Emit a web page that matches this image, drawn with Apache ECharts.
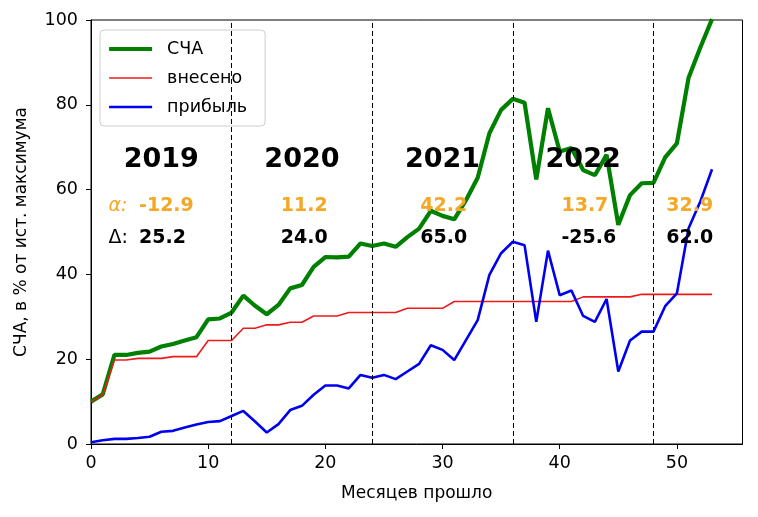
<!DOCTYPE html>
<html>
<head>
<meta charset="utf-8">
<script src="https://cdn.jsdelivr.net/npm/echarts@6/dist/echarts.min.js"></script>
<style>html,body{margin:0;padding:0;background:#fff}#c{width:758px;height:517px}</style>
</head>
<body>
<div id="c"></div>
<script>
// ---- data ----
const months = [0,1,2,3,4,5,6,7,8,9,10,11,12,13,14,15,16,17,18,19,20,21,22,23,24,25,26,27,28,29,30,31,32,33,34,35,36,37,38,39,40,41,42,43,44,45,46,47,48,49,50,51,52,53];
const navValues = [10.0,11.7,21.0,21.0,21.5,21.8,23.0,23.6,24.4,25.2,29.4,29.6,31.0,35.0,32.6,30.6,32.8,36.7,37.5,41.8,44.1,44.0,44.2,47.3,46.7,47.3,46.5,48.8,50.8,55.0,53.8,53.0,57.5,62.8,73.3,78.8,81.4,80.5,62.4,79.2,69.0,69.8,64.6,63.4,68.2,51.7,58.7,61.5,61.6,67.6,70.9,86.4,93.5,100.2];
const contributed = [10.0,11.6,19.8,19.8,20.2,20.2,20.2,20.6,20.6,20.6,24.4,24.4,24.4,27.3,27.3,28.1,28.1,28.7,28.7,30.2,30.2,30.2,31.0,31.0,31.0,31.0,31.0,32.0,32.0,32.0,32.0,33.6,33.6,33.6,33.6,33.6,33.6,33.6,33.6,33.6,33.6,33.6,34.7,34.7,34.7,34.7,34.7,35.3,35.3,35.3,35.3,35.3,35.3,35.3];
const profit = [0.4,0.9,1.2,1.2,1.4,1.7,2.9,3.1,3.9,4.6,5.2,5.4,6.6,7.8,5.3,2.7,4.7,8.0,9.0,11.6,13.8,13.8,13.1,16.3,15.6,16.3,15.3,17.1,18.9,23.3,22.2,19.8,24.5,29.2,39.9,45.0,47.7,46.9,28.8,45.6,35.1,36.2,30.2,28.8,34.2,17.1,24.4,26.5,26.5,32.5,35.5,50.9,57.2,64.8];
const yearBoundaries = [12, 24, 36, 48];
const yearLabels = ['2019','2020','2021','2022'];
const yearLabelX = [6, 18, 30, 42];
const alphaValues = ['-12.9','11.2','42.2','13.7','32.9'];
const deltaValues = ['25.2','24.0','65.0','-25.6','62.0'];
const valueLabelX = [4.1, 16.2, 28.1, 40.15, 49.1];
const xTicks = [0,10,20,30,40,50];
const yearRowY = 67, alphaRowY = 56.1, deltaRowY = 48.5, prefixX = 1.5;

const FONT = 'DejaVu Sans';
const ORANGE = '#f3a826';
const GREEN = '#008000', RED = '#ee1a1a', BLUE = '#0000f0';
const W_NAV = 4.2, W_CONTR = 1.6, W_PROFIT = 2.6;

// annotation items
const ann = [];
yearLabels.forEach((t,i)=>ann.push({v:[yearLabelX[i], yearRowY], text:t, kind:'year'}));
alphaValues.forEach((t,i)=>ann.push({v:[valueLabelX[i], alphaRowY], text:t, kind:'alpha'}));
deltaValues.forEach((t,i)=>ann.push({v:[valueLabelX[i], deltaRowY], text:t, kind:'delta'}));
ann.push({v:[prefixX, alphaRowY], text:'α:', kind:'alphaPrefix'});
ann.push({v:[prefixX, deltaRowY], text:'Δ:', kind:'deltaPrefix'});

function pairs(arr){ return arr.map((v,i)=>[months[i], v]); }

const chart = echarts.init(document.getElementById('c'), null, {renderer:'canvas'});
chart.setOption({
  animation:false,
  backgroundColor:'#fff',
  textStyle:{fontFamily:FONT},
  grid:{left:91, right:15.5, top:20, bottom:73, show:true, borderColor:'#000', borderWidth:1, backgroundColor:'transparent'},
  legend:{
    data:[
      {name:'СЧА', lineStyle:{width:W_NAV, color:GREEN}},
      {name:'внесено', lineStyle:{width:W_CONTR, color:RED}},
      {name:'прибыль', lineStyle:{width:W_PROFIT, color:BLUE}}
    ],
    orient:'vertical', left:100, top:30,
    itemWidth:43, itemHeight:14, itemGap:11,
    padding:[10,18,10,7],
    borderColor:'#cccccc', borderWidth:1, borderRadius:4,
    backgroundColor:'rgba(255,255,255,0.8)',
    itemStyle:{opacity:0},
    textStyle:{fontFamily:FONT, fontSize:17.5, color:'#000', lineHeight:17, padding:[0,0,0,10]}
  },
  xAxis:{
    type:'value', min:0, max:55.6, interval:10,
    name:'Месяцев прошло', nameLocation:'middle', nameGap:41,
    nameTextStyle:{fontFamily:FONT, fontSize:17, color:'#000'},
    axisLine:{show:true, lineStyle:{color:'#000', width:1}},
    axisTick:{show:true, length:5, inside:false, lineStyle:{color:'#000'}, customValues:xTicks},
    axisLabel:{fontFamily:FONT, fontSize:17.5, color:'#000', margin:10, customValues:xTicks},
    splitLine:{show:false}
  },
  yAxis:{
    type:'value', min:0, max:100, interval:20,
    name:'СЧА, в % от ист. максимума', nameLocation:'middle', nameGap:61,
    nameTextStyle:{fontFamily:FONT, fontSize:17, color:'#000'},
    axisLine:{show:true, lineStyle:{color:'#000', width:1}},
    axisTick:{show:true, length:5, inside:false, lineStyle:{color:'#000'}},
    axisLabel:{fontFamily:FONT, fontSize:17.5, color:'#000', margin:13},
    splitLine:{show:false}
  },
  series:[
    {name:'СЧА', type:'line', data:pairs(navValues), symbol:'none', color:GREEN,
     lineStyle:{color:GREEN, width:W_NAV}, z:2,
     markLine:{silent:true, symbol:'none', label:{show:false},
       lineStyle:{color:'#000', width:1, type:[5,3]},
       data:yearBoundaries.map(x=>({xAxis:x}))}},
    {name:'внесено', type:'line', data:pairs(contributed), symbol:'none', color:RED,
     lineStyle:{color:RED, width:W_CONTR}, z:3},
    {name:'прибыль', type:'line', data:pairs(profit), symbol:'none', color:BLUE,
     lineStyle:{color:BLUE, width:W_PROFIT}, z:4},
    {name:'annotations', type:'custom', z:5, silent:true,
     data:ann.map(a=>a.v),
     renderItem:function(params, api){
       const a = ann[params.dataIndex];
       const p = api.coord([api.value(0), api.value(1)]);
       let style = {text:a.text, fontFamily:FONT, verticalAlign:'middle'};
       if(a.kind==='year'){ Object.assign(style,{fill:'#000', fontSize:27, fontWeight:'bold', align:'center'}); }
       else if(a.kind==='alpha'){ Object.assign(style,{fill:ORANGE, fontSize:19, fontWeight:'bold', align:'left'}); }
       else if(a.kind==='delta'){ Object.assign(style,{fill:'#000', fontSize:19, fontWeight:'bold', align:'left'}); }
       else if(a.kind==='alphaPrefix'){ Object.assign(style,{fill:ORANGE, fontSize:19, fontStyle:'italic', align:'left'}); }
       else { Object.assign(style,{fill:'#000', fontSize:19, align:'left'}); }
       return {type:'text', x:p[0], y:p[1], style:style};
     }}
  ]
});
</script>
</body>
</html>
